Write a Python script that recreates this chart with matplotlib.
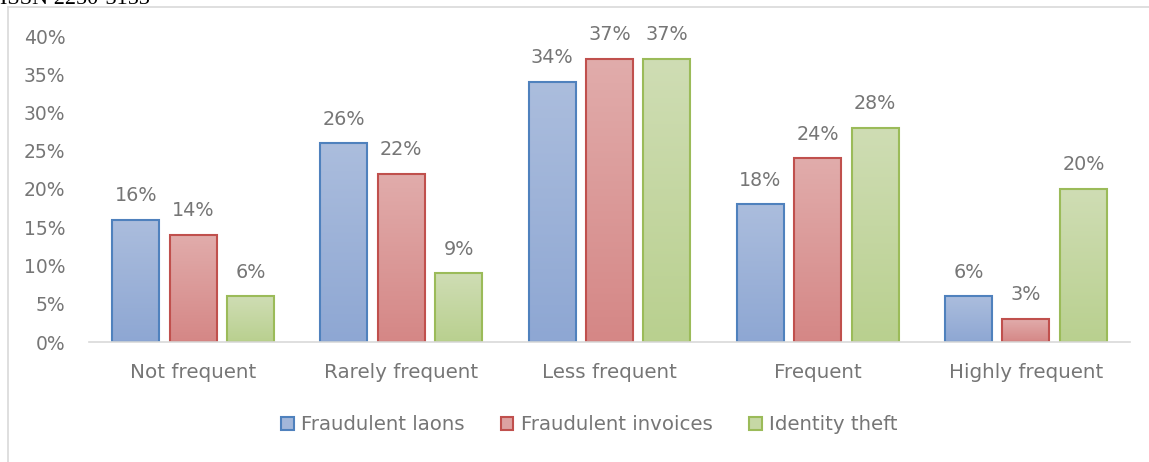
"""Fraud frequency grouped bar chart."""

import numpy as np
import matplotlib
matplotlib.use("Agg")
import matplotlib.pyplot as plt
from matplotlib.colors import LinearSegmentedColormap
from matplotlib.lines import Line2D
from matplotlib.patches import Patch

categories = ["Not frequent", "Rarely frequent", "Less frequent", "Frequent", "Highly frequent"]
series_names = ["Fraudulent laons", "Fraudulent invoices", "Identity theft"]
loans = [0.16, 0.26, 0.34, 0.18, 0.06]
invoices = [0.14, 0.22, 0.37, 0.24, 0.03]
identity = [0.06, 0.09, 0.37, 0.28, 0.20]
yticks = [0, 0.05, 0.10, 0.15, 0.20, 0.25, 0.30, 0.35, 0.40]

edge_colors = ["#4f81bd", "#c0504d", "#9bbb59"]
top_colors = ["#abbddd", "#e1acab", "#cfddb4"]
bottom_colors = ["#8ea7d3", "#d58786", "#b9d08f"]
mid_colors = ["#a3b7da", "#dda2a1", "#c6d8a5"]
text_color = "#767676"

plt.rcParams["font.family"] = ["DejaVu Sans"]

fig = plt.figure(figsize=(11.49, 4.62), dpi=100)
ax = fig.add_axes([89 / 1149, 1 - 342 / 462, (1130 - 89) / 1149, (342 - 36) / 462])

x = np.arange(len(categories))
width = 0.226
offset = 0.276
grad = np.linspace(0, 1, 100).reshape(-1, 1)

for i, vals in enumerate([loans, invoices, identity]):
    pos = x + (i - 1) * offset
    bars = ax.bar(pos, vals, width, facecolor="none", edgecolor=edge_colors[i],
                  linewidth=1.5, zorder=3)
    cmap = LinearSegmentedColormap.from_list(f"g{i}", [top_colors[i], bottom_colors[i]])
    for b, v in zip(bars, vals):
        bx, bw, bh = b.get_x(), b.get_width(), b.get_height()
        ax.imshow(grad, cmap=cmap, extent=[bx, bx + bw, 0, bh], aspect="auto",
                  origin="upper", zorder=2)
        ax.annotate(f"{round(v * 100):d}%", (bx + bw / 2, bh), xytext=(0, 10.5),
                    textcoords="offset points", ha="center", va="bottom",
                    fontsize=13.8, color=text_color)

ax.set_xlim(-0.5, len(categories) - 0.5)
ax.set_ylim(0, 0.40)
ax.set_yticks(yticks)
ax.set_yticklabels([f"{round(t * 100):d}%" for t in yticks])
ax.set_xticks(x)
ax.set_xticklabels(categories)
ax.tick_params(axis="y", length=0, pad=17, labelsize=13.5, labelcolor=text_color)
ax.tick_params(axis="x", length=0, pad=15, labelsize=14.3, labelcolor=text_color)
for s in ["top", "right", "left"]:
    ax.spines[s].set_visible(False)
ax.spines["bottom"].set_color("#d9d9d9")
ax.spines["bottom"].set_linewidth(1.2)
ax.spines["bottom"].set_zorder(4)

handles = [Patch(facecolor=mid_colors[i], edgecolor=edge_colors[i], linewidth=1.5)
           for i in range(3)]
fig.legend(handles, series_names, loc="center", bbox_to_anchor=(0.513, 1 - 425 / 462),
           ncol=3, frameon=False, fontsize=14.2, labelcolor=text_color,
           handlelength=0.62, handleheight=0.62, handletextpad=0.38, columnspacing=1.85)

# chart frame and page header
fig.add_artist(Line2D([8 / 1149, 8 / 1149], [0, 1 - 7 / 462], color="#d9d9d9", lw=1.2))
fig.add_artist(Line2D([8 / 1149, 1], [1 - 7 / 462, 1 - 7 / 462], color="#d9d9d9", lw=1.2))
fig.text(0.0, 1 - 4 / 462, "ISSN 2250-3153", family="Liberation Serif", fontsize=16,
         ha="left", va="baseline", color="black")

fig.savefig("out.png", dpi=100)
plt.close(fig)
